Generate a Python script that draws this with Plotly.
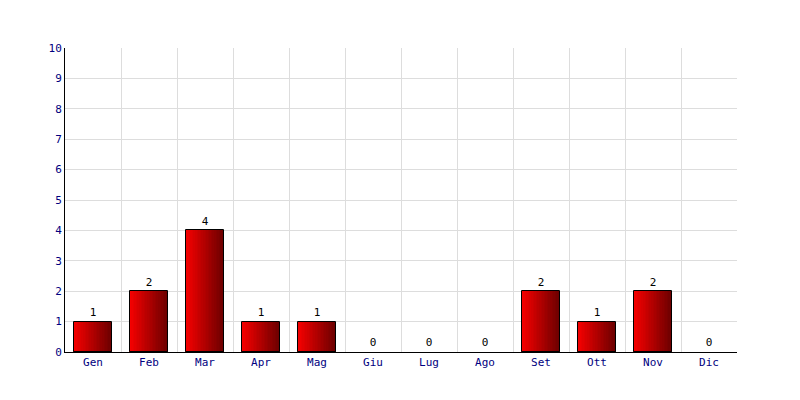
import plotly.graph_objects as go

months = ["Gen", "Feb", "Mar", "Apr", "Mag", "Giu", "Lug", "Ago", "Set", "Ott", "Nov", "Dic"]
values = [1, 2, 4, 1, 1, 0, 0, 0, 2, 1, 2, 0]

FONT = "DejaVu Sans Mono"
centers = [i + 0.5 for i in range(len(months))]
bar_vals = [v if v > 0 else None for v in values]
bar_w = 0.68
n_slices = 24

fig = go.Figure()

# gradient bars made of thin slices
c0 = (245, 0, 0)
c1 = (110, 0, 0)
for k in range(n_slices):
    t = k / (n_slices - 1)
    col = "rgb(%d,%d,%d)" % tuple(round(a + (b - a) * t) for a, b in zip(c0, c1))
    sw = bar_w / n_slices
    fig.add_trace(go.Bar(
        x=centers, y=bar_vals, width=sw * 1.05,
        offset=-bar_w / 2 + k * sw,
        marker=dict(color=col, line=dict(width=0)),
        hoverinfo="skip", showlegend=False,
    ))

# outline
fig.add_trace(go.Bar(
    x=centers, y=bar_vals, width=bar_w,
    marker=dict(color="rgba(0,0,0,0)", line=dict(color="black", width=1)),
    showlegend=False,
))

# value labels
fig.add_trace(go.Scatter(
    x=centers, y=values, mode="markers+text",
    marker=dict(size=3, opacity=0),
    text=[str(v) for v in values], textposition="top center",
    textfont=dict(family=FONT, size=11, color="black"),
    showlegend=False, cliponaxis=False,
))

fig.update_layout(
    width=800, height=400,
    margin=dict(l=57, r=71, t=40, b=56),
    paper_bgcolor="white", plot_bgcolor="white",
    barmode="overlay", bargap=0,
    font=dict(family=FONT, size=11, color="#000080"),
)
fig.update_xaxes(
    range=[0, 12], tickvals=centers, ticktext=months,
    showgrid=False, showline=True, linecolor="black", linewidth=1,
    ticks="", zeroline=False,
    minor=dict(tick0=0, dtick=1, showgrid=True, gridcolor="#dddddd", gridwidth=1, ticks=""),
    tickfont=dict(family=FONT, size=11, color="#000080"),
)
fig.update_yaxes(
    range=[0, 10], dtick=1, tick0=0,
    showgrid=True, gridcolor="#dddddd", gridwidth=1,
    showline=True, linecolor="black", linewidth=1,
    ticks="", zeroline=False,
    tickfont=dict(family=FONT, size=11, color="#000080"),
)

fig.write_html("out.html")
